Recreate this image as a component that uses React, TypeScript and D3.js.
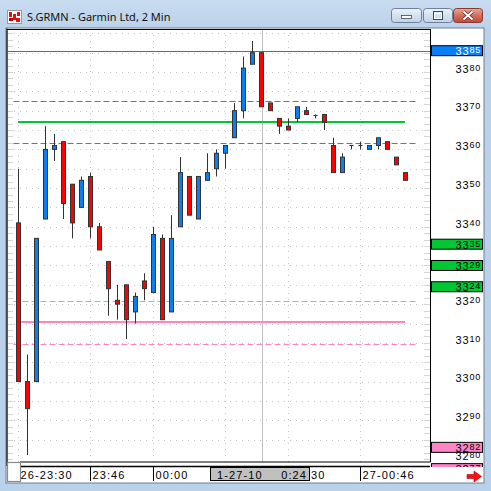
import React from "react";
import * as d3 from "d3";

// 2-minute OHLC bars, 26 Jan 23:30 onwards
const opens = [3340, 3299, 3299, 3341, 3359, 3361, 3350, 3344, 3352, 3339, 3330, 3320, 3324, 3317, 3325, 3322, 3336, 3317, 3339, 3352, 3341, 3351, 3354, 3358, 3362, 3369, 3381, 3384, 3371, 3367, 3365, 3367, 3369, 3368, 3368, 3360, 3353, 3360, 3360, 3359, 3360, 3361, 3357, 3353];
const highs = [3354, 3306, 3336, 3365, 3363, 3361, 3350, 3352, 3353, 3340, 3330, 3324, 3324, 3322, 3327, 3339, 3337, 3342, 3357, 3352, 3352, 3358, 3359, 3360, 3371, 3383, 3387, 3384, 3371, 3367, 3367, 3370, 3370, 3368, 3368, 3362, 3358, 3360, 3361, 3360, 3362, 3361, 3357, 3353];
const lows = [3299, 3280, 3299, 3341, 3356, 3341, 3336, 3344, 3336, 3333, 3316, 3315, 3310, 3314, 3320, 3322, 3315, 3317, 3339, 3342, 3341, 3351, 3352, 3354, 3362, 3367, 3381, 3370, 3369, 3363, 3364, 3366, 3368, 3367, 3364, 3353, 3353, 3359, 3359, 3359, 3359, 3359, 3355, 3351];
const closes = [3299, 3292, 3336, 3359, 3360, 3345, 3340, 3351, 3339, 3333, 3323, 3319, 3315, 3321, 3323, 3337, 3315, 3336, 3353, 3342, 3352, 3353, 3358, 3360, 3369, 3380, 3384, 3370, 3369, 3365, 3364, 3370, 3368, 3368, 3366, 3353, 3357, 3360, 3360, 3360, 3362, 3359, 3355, 3351];

// time axis
const timeTickIndex = [0, 8, 15, 23, 30, 38];
const timeTickLabels = ["26-23:30", "23:46", "00:00", "00:16", "00:30", "27-00:46"];
const crossIndex = 27;
const crossDate = "1-27-10";
const crossTime = "0:24";

// price axis
const priceTicks = [3280, 3290, 3300, 3310, 3320, 3330, 3340, 3350, 3360, 3370, 3380];
const lastPrice = 3384.5;
const upperMid = 3366;
const upperBand = [3371.5, 3360.6];
const lowerMid = 3314.3;
const lowerBand = [3319.7, 3308.6];
const greenMarks = [3334.5, 3329, 3323.5];
const pinkMarks = [3282, 3276.5];

const title = "S.GRMN - Garmin Ltd, 2 Min";

const BLUE = "#0a7ff5";
const RED = "#ff0000";
const GREEN = "#00c832";
const GREEN_DASH = "#18b030";
const PINK = "#ff84c6";
const EDGE = "#333333";

const snap = (v: number) => Math.round(v) + 0.5;

export default function App() {
  const plot = { left: 8, right: 430, top: 29, bottom: 462 };
  const x = d3.scaleLinear().domain([0, opens.length - 1]).range([18, 405]);
  const y = d3.scaleLinear().domain([3280, 3380]).range([455.1, 68.1]);
  const gridLevels = d3.range(3284, 3392, 5);
  const minorLevels = d3.range(3279, 3392, 5 / 3);

  const candles = opens.map((o, i) => ({ o, h: highs[i], l: lows[i], c: closes[i], i }));
  const axisFont = "'Liberation Sans', Arial, sans-serif";
  const boxes = [
    ...greenMarks.map((v) => ({ v, fill: GREEN, color: "#000" })),
    ...pinkMarks.map((v) => ({ v, fill: PINK, color: "#000" })),
    { v: lastPrice, fill: BLUE, color: "#fff" },
  ];
  const hiddenTick = (p: number) => boxes.some((b) => Math.abs(y(b.v) - y(p)) < 6);

  const crossBox = { left: 210, right: 310 };

  const priceLabel = (v: number, fill: string, yy: number) => {
    const s = Math.round(v).toString();
    return (
      <text x={481} y={yy} textAnchor="end" fontFamily={axisFont} fontSize={11} letterSpacing={0.8} fill={fill}>
        <tspan>{s.slice(0, 2)}</tspan>
        <tspan fontSize={9} dy={-2}>{s.slice(2)}</tspan>
      </text>
    );
  };

  return (
    <svg width={491} height={491} style={{ position: "absolute", left: 0, top: 0 }} fontFamily={axisFont}>
      <defs>
        <linearGradient id="titleBg" x1="0" y1="0" x2="0" y2="1">
          <stop offset="0" stopColor="#c9dcf0" />
          <stop offset="1" stopColor="#bad2ea" />
        </linearGradient>
        <linearGradient id="btn" x1="0" y1="0" x2="0" y2="1">
          <stop offset="0" stopColor="#eef3fa" />
          <stop offset="0.5" stopColor="#d5e1ef" />
          <stop offset="1" stopColor="#c2d3e8" />
        </linearGradient>
        <linearGradient id="btnClose" x1="0" y1="0" x2="0" y2="1">
          <stop offset="0" stopColor="#e8a89a" />
          <stop offset="0.5" stopColor="#d2705f" />
          <stop offset="1" stopColor="#c04a3a" />
        </linearGradient>
        <clipPath id="plotClip">
          <rect x={plot.left} y={plot.top} width={plot.right - plot.left} height={plot.bottom - plot.top} />
        </clipPath>
        <clipPath id="axisClip">
          <rect x={431} y={plot.top} width={52} height={438} />
        </clipPath>
      </defs>

      {/* window frame */}
      <rect x={0} y={0} width={491} height={491} fill="#b9d1ea" />
      <rect x={0} y={0} width={491} height={29} fill="url(#titleBg)" />
      <rect x={6} y={28} width={478} height={455} fill="#ffffff" stroke="#6e7f94" strokeWidth={1} />

      {/* title bar */}
      <g>
        <rect x={7.5} y={10.5} width={14} height={13} fill="#ffffff" stroke="#9a9a9a" />
        <rect x={9} y={12} width={3} height={5} fill="#e01010" />
        <rect x={13} y={14} width={3} height={6} fill="#e01010" />
        <rect x={17} y={12} width={3} height={4} fill="#e01010" />
        <rect x={9} y={18} width={4} height={3} fill="#c00000" />
        <rect x={16} y={18} width={4} height={4} fill="#e01010" />
        <text x={27} y={20.5} fontFamily="'Noto Sans', 'Open Sans', sans-serif" fontSize={11} fill="#111">{title}</text>
      </g>
      <g>
        <rect x={391.5} y={8.5} width={30} height={14} rx={3} fill="url(#btn)" stroke="#6c809e" />
        <rect x={401.5} y={15.5} width={10} height={3} fill="#ffffff" stroke="#3a4a60" strokeWidth={0.8} />
        <rect x={423.5} y={8.5} width={29} height={14} rx={3} fill="url(#btn)" stroke="#6c809e" />
        <rect x={433.5} y={11.5} width={9} height={8} fill="none" stroke="#3a4a60" strokeWidth={1} />
        <rect x={434.5} y={13.5} width={7} height={5} fill="none" stroke="#ffffff" strokeWidth={1} />
        <rect x={453.5} y={8.5} width={29} height={14} rx={3} fill="url(#btnClose)" stroke="#8a3a30" />
        <path d="M463.5,11.5 L472.5,19.5 M472.5,11.5 L463.5,19.5" stroke="#5a1a14" strokeWidth={3.2} />
        <path d="M463.5,11.5 L472.5,19.5 M472.5,11.5 L463.5,19.5" stroke="#ffffff" strokeWidth={2} />
      </g>

      {/* chart background */}
      <rect x={7} y={29} width={476} height={453} fill="#ffffff" />

      {/* plot area */}
      <g clipPath="url(#plotClip)">
        {gridLevels.map((g) => (
          <line key={`gh${g}`} x1={plot.left} x2={plot.right} y1={snap(y(g))} y2={snap(y(g))}
            stroke="#c4c4c4" strokeDasharray="1,5" />
        ))}
        {timeTickIndex.map((t) => (
          <line key={`gv${t}`} x1={x(t) + 0.5} x2={x(t) + 0.5} y1={plot.top} y2={plot.bottom}
            stroke="#c4c4c4" strokeDasharray="1,5" />
        ))}
        {minorLevels.map((m, k) => (
          <g key={`mt${k}`} stroke="#d4d4d4">
            <line x1={plot.left} x2={plot.left + 5} y1={snap(y(m))} y2={snap(y(m))} />
            <line x1={plot.right - 6} x2={plot.right} y1={snap(y(m))} y2={snap(y(m))} />
          </g>
        ))}

        {/* crosshair */}
        <line x1={x(crossIndex) + 1.5} x2={x(crossIndex) + 1.5} y1={plot.top} y2={plot.bottom} stroke="#c0c0c0" />

        {/* reference levels */}
        <line x1={plot.left} x2={plot.right} y1={snap(y(lastPrice))} y2={snap(y(lastPrice))} stroke={BLUE} strokeWidth={1} />
        {upperBand.map((v) => (
          <line key={`ub${v}`} x1={x(-0.5)} x2={x(44.5)} y1={snap(y(v))} y2={snap(y(v))} stroke={GREEN_DASH} strokeDasharray="6,3" />
        ))}
        {lowerBand.map((v) => (
          <line key={`lb${v}`} x1={x(-0.5)} x2={x(44.5)} y1={snap(y(v))} y2={snap(y(v))} stroke={PINK} strokeDasharray="6,3" />
        ))}
        <line x1={x(0)} x2={x(opens.length - 1)} y1={Math.round(y(upperMid))} y2={Math.round(y(upperMid))} stroke={GREEN} strokeWidth={2} />
        <line x1={x(0)} x2={x(opens.length - 1)} y1={Math.round(y(lowerMid))} y2={Math.round(y(lowerMid))} stroke={PINK} strokeWidth={2} />

        {/* candles */}
        {candles.map((d) => {
          const cx = Math.round(x(d.i));
          const top = y(Math.max(d.o, d.c));
          const bot = y(Math.min(d.o, d.c));
          const up = d.c > d.o;
          return (
            <g key={`c${d.i}`}>
              <line x1={cx + 0.5} x2={cx + 0.5} y1={y(d.h)} y2={y(d.l)} stroke={EDGE} strokeWidth={1} />
              {d.o === d.c ? (
                <line x1={cx - 1.5} x2={cx + 2.5} y1={snap(top)} y2={snap(top)} stroke={EDGE} strokeWidth={1.2} />
              ) : (
                <rect x={cx - 1.5} y={top} width={4} height={bot - top} fill={up ? BLUE : RED} stroke={EDGE} strokeWidth={1} />
              )}
            </g>
          );
        })}
      </g>

      {/* plot frame */}
      <line x1={7} x2={7} y1={28.5} y2={466} stroke="#222" strokeWidth={1.5} />
      <line x1={7} x2={430.5} y1={29.5} y2={29.5} stroke="#000" strokeWidth={1} />
      <line x1={430.5} x2={430.5} y1={29} y2={462} stroke="#000" strokeWidth={1} />
      <line x1={20} x2={430.5} y1={462} y2={462} stroke="#000" strokeWidth={1} />

      {/* price axis */}
      <g clipPath="url(#axisClip)">
        {priceTicks.filter((p) => !hiddenTick(p)).map((p) => (
          <g key={`pt${p}`}>{priceLabel(p, "#000", y(p) + 4.6)}</g>
        ))}
        {boxes.map((b, k) => (
          <g key={`bx${k}`}>
            <rect x={431.5} y={y(b.v) - 5} width={51} height={10} fill={b.fill} stroke="#000" strokeWidth={1} />
            {priceLabel(b.v, b.color, y(b.v) + 4.5)}
          </g>
        ))}
      </g>

      {/* time axis */}
      <line x1={20} x2={430} y1={466.5} y2={466.5} stroke="#000" strokeWidth={1.6} />
      <g fontFamily={axisFont} fontSize={11} letterSpacing={1.1} fill="#000">
        {timeTickIndex.map((t, k) => {
          const tx = x(t) + 2.5;
          const label = timeTickLabels[k];
          // labels that start under the crosshair box only show the part past its right edge
          const covered = tx > crossBox.left && tx < crossBox.right;
          const shown = covered ? label.split(":").pop() : label;
          const showAt = covered ? crossBox.right + 1 : tx;
          const fullyHidden = covered && x(t) + 30 < crossBox.right;
          return (
            <g key={`tt${t}`}>
              <line x1={x(t) + 0.5} x2={x(t) + 0.5} y1={467} y2={481} stroke="#000" />
              {!fullyHidden && <text x={showAt} y={479}>{shown}</text>}
            </g>
          );
        })}
        <rect x={crossBox.left + 0.5} y={467.5} width={crossBox.right - crossBox.left - 1} height={13} fill="#c0c0c0" stroke="#000" strokeWidth={1} />
        <text x={217} y={479}>{crossDate}</text>
        <text x={307} y={479} textAnchor="end">{crossTime}</text>
      </g>
      <rect x={7.5} y={462.5} width={13} height={19} fill="#ffffff" stroke="#8a8a8a" strokeWidth={1.2} />

      {/* scroll arrow */}
      <path d="M467,474.5 L474,474.5 L474,471 L481.5,476.5 L474,482 L474,478.5 L467,478.5 Z" fill="#ff1010" stroke="#b00000" strokeWidth={0.6} />
    </svg>
  );
}
